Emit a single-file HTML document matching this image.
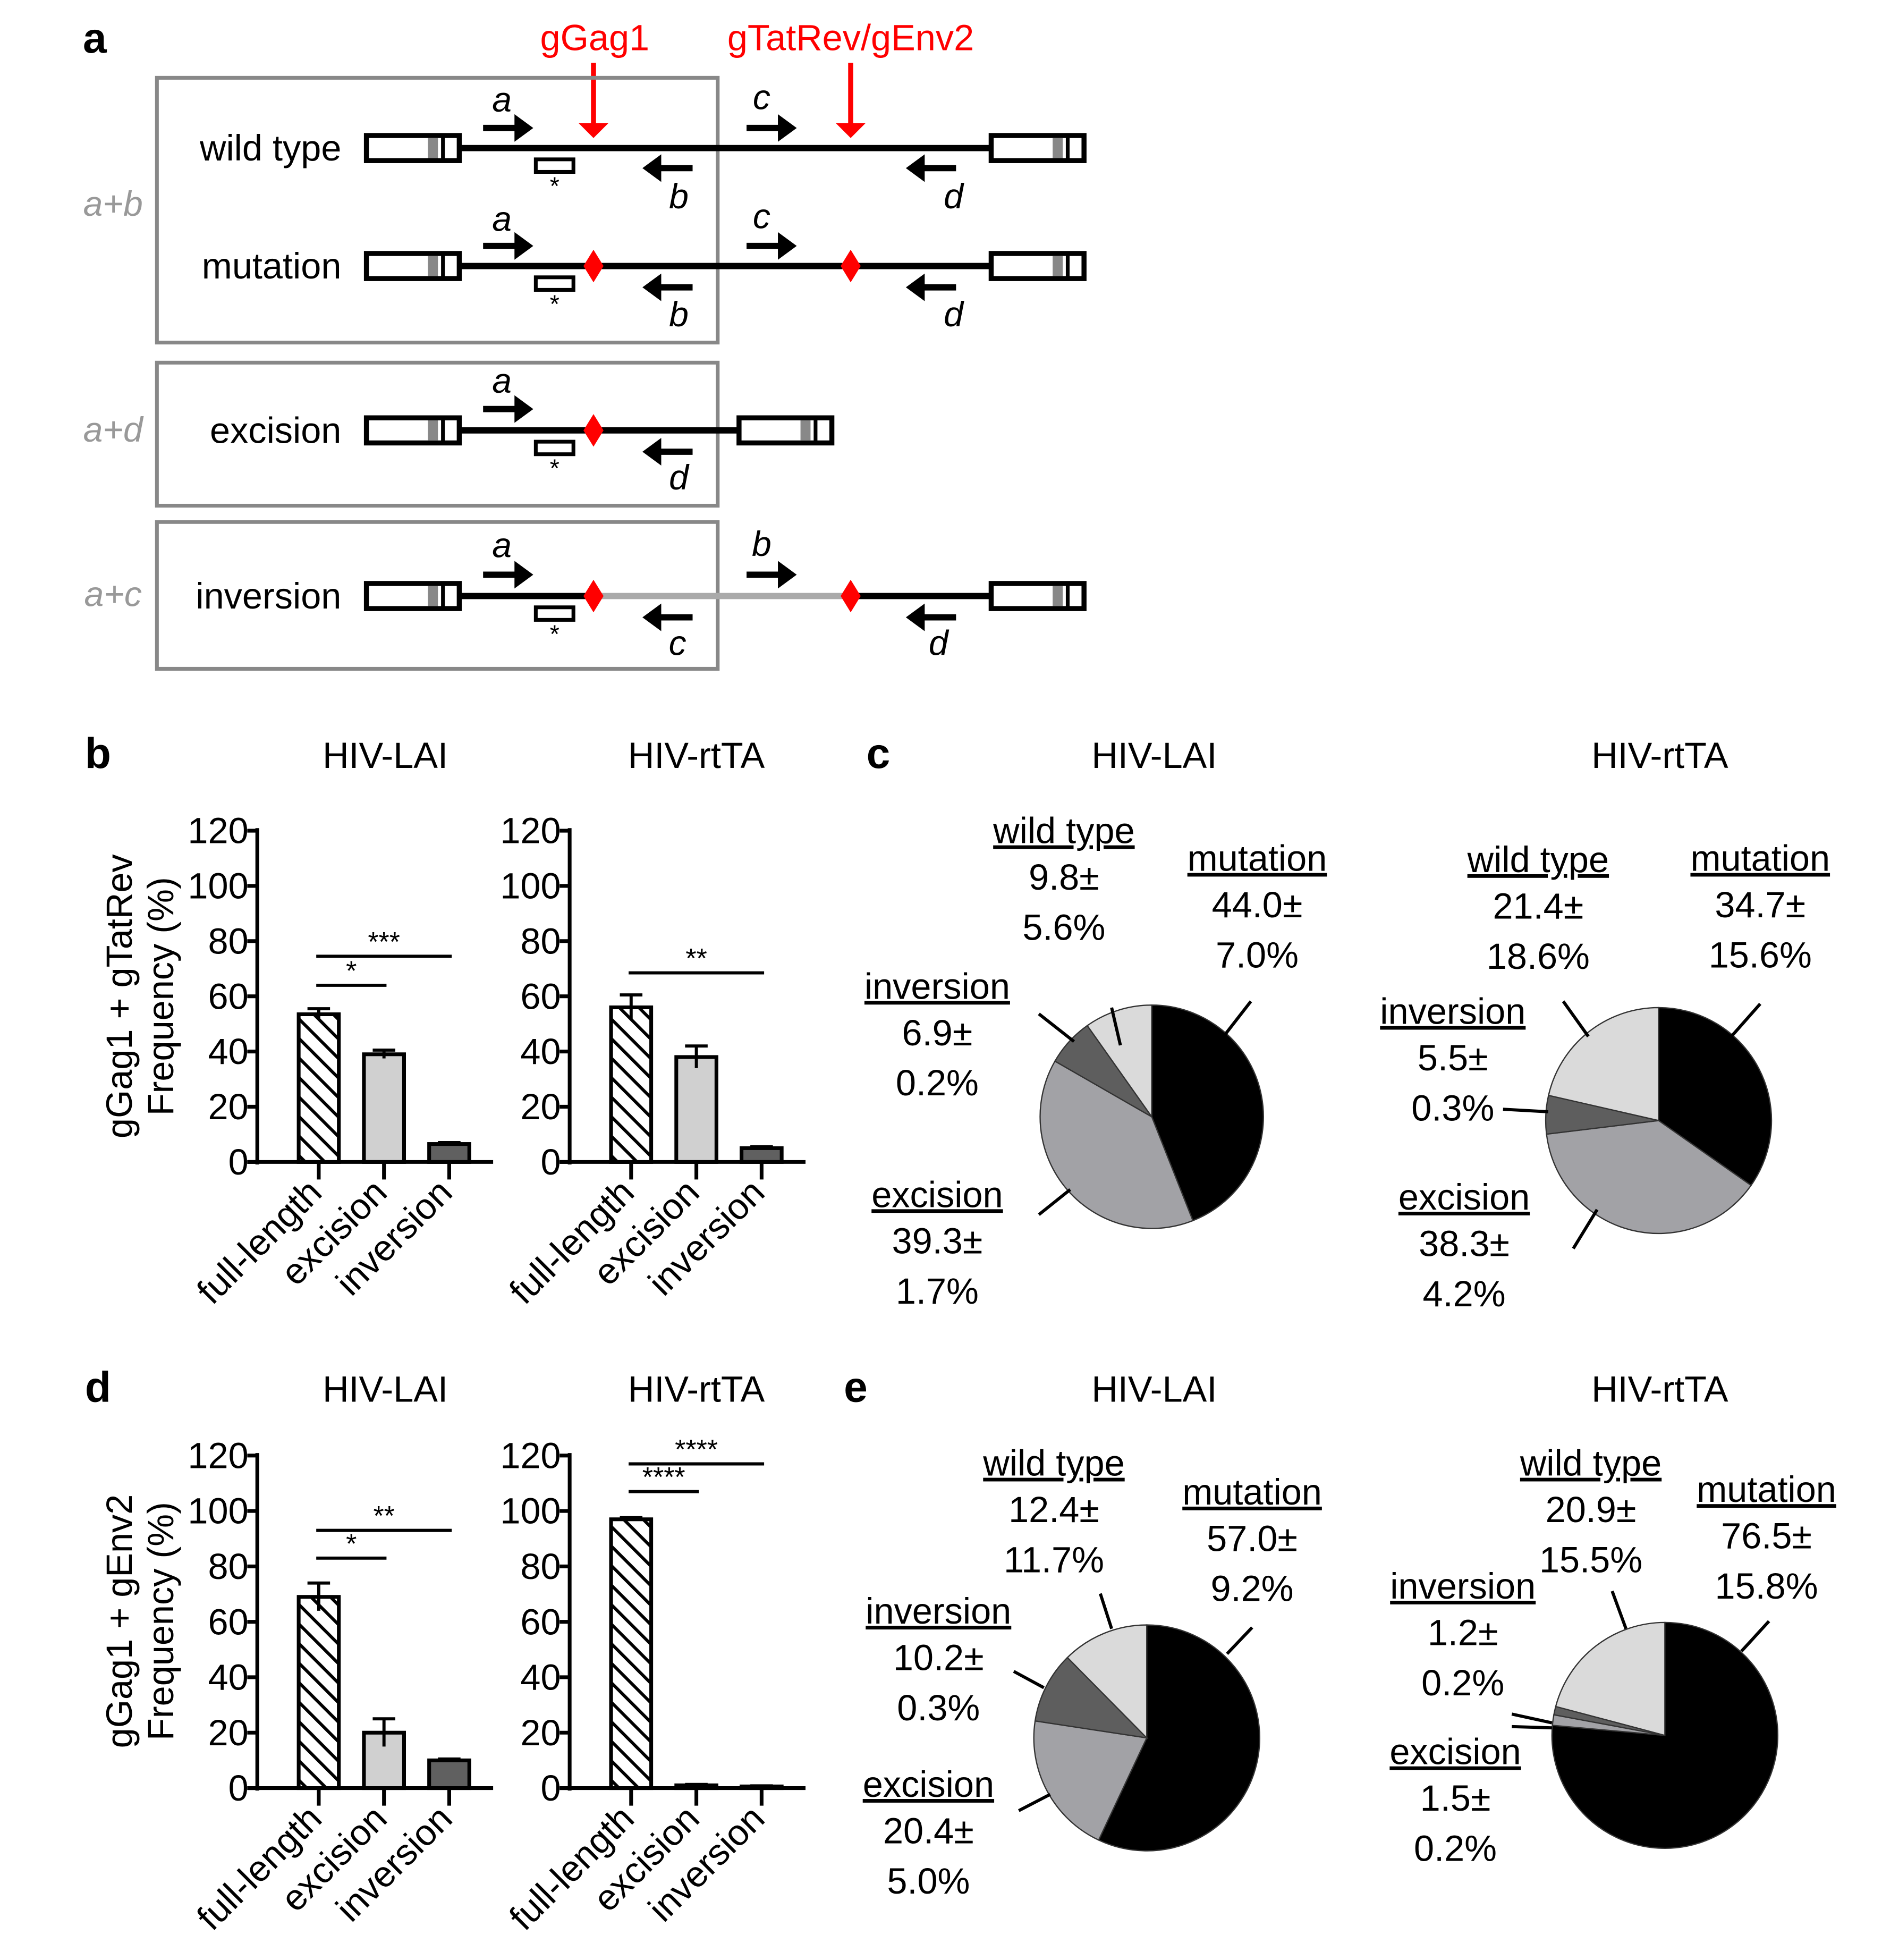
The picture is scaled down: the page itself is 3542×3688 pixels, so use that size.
<!DOCTYPE html>
<html><head><meta charset="utf-8"><style>
html,body{margin:0;padding:0;background:#fff}
svg{display:block}
text{font-family:"Liberation Sans",Arial,sans-serif}
</style></head><body>
<svg id="fig" width="3542" height="3688" viewBox="0 0 1500 1562" xmlns="http://www.w3.org/2000/svg">
<defs>
<pattern id="hatch" patternUnits="userSpaceOnUse" width="11" height="11" patternTransform="rotate(-45)">
<rect width="11" height="11" fill="#fff"/><line x1="0" y1="0" x2="0" y2="11" stroke="#000" stroke-width="5"/>
</pattern>
<marker id="ra" markerWidth="5" markerHeight="6" refX="1" refY="3" orient="auto" markerUnits="strokeWidth"><path d="M0,0 L3,3 L0,6 Z" fill="red"/></marker>
</defs>
<g id="panelA"></g>
<g id="charts"></g>
</svg>
<script>
// ---- bar chart data ----
const barCategories = ["full-length","excision","inversion"];
const bLaiValues = [53.5, 39, 6.5];
const bLaiErrors = [2, 1.5, 0.5];
const bRtValues = [56, 38, 5];
const bRtErrors = [4.5, 4, 0.5];
const dLaiValues = [69, 20, 10];
const dLaiErrors = [5, 5, 0.5];
const dRtValues = [97, 1, 0.6];
const dRtErrors = [0.6, 0.3, 0.2];
const yTicks = [0,20,40,60,80,100,120];
// ---- pie data (order: mutation, excision, inversion, wild type) ----
const pieCategories = ["mutation","excision","inversion","wild type"];
const cLaiPie = [44.0, 39.3, 6.9, 9.8];
const cRtPie = [34.7, 38.3, 5.5, 21.4];
const eLaiPie = [57.0, 20.4, 10.2, 12.4];
const eRtPie = [76.5, 1.5, 1.2, 20.9];
const cLaiErr = [7.0, 1.7, 0.2, 5.6];
const cRtErr = [15.6, 4.2, 0.3, 18.6];
const eLaiErr = [9.2, 5.0, 0.3, 11.7];
const eRtErr = [15.8, 0.2, 0.2, 15.5];

const NS="http://www.w3.org/2000/svg";
function el(parent,tag,attrs,txt){const e=document.createElementNS(NS,tag);for(const k in attrs)e.setAttribute(k,attrs[k]);if(txt!==undefined)e.textContent=txt;parent.appendChild(e);return e;}
const A=document.getElementById('panelA');
const C=document.getElementById('charts');

// ---------- Panel A ----------
let t;
t=el(A,'text',{x:66,y:42,'font-size':34,'font-weight':'bold'},'a');


t=el(A,'text',{x:474,y:40,'font-size':29,fill:'red','text-anchor':'middle'},'gGag1');


t=el(A,'text',{x:678,y:40,'font-size':29,fill:'red','text-anchor':'middle'},'gTatRev/gEnv2');


el(A,'line',{x1:473,y1:50,x2:473,y2:102,stroke:'red','stroke-width':4,'marker-end':'url(#ra)'});
el(A,'line',{x1:678,y1:50,x2:678,y2:102,stroke:'red','stroke-width':4,'marker-end':'url(#ra)'});
[[125,62,447,211],[125,289,447,114],[125,416,447,117]].forEach((b,i)=>{
 const r=el(A,'rect',{x:b[0],y:b[1],width:b[2],height:b[3],fill:'none',stroke:'#888','stroke-width':3});
 
 
});
[['a+b',172],['a+d',352],['a+c',483]].forEach(g=>{
 const x=el(A,'text',{x:90,y:g[1],'font-size':28,fill:'#999','font-style':'italic','text-anchor':'middle'},g[0]);
 
 
});
function ltr(x,y){
 el(A,'rect',{x:x+2,y:y-10,width:74,height:20,fill:'#fff',stroke:'#000','stroke-width':4});
 el(A,'rect',{x:x+51,y:y-8,width:8,height:16,fill:'#888'});
 el(A,'line',{x1:x+63,y1:y-10,x2:x+63,y2:y+10,stroke:'#000','stroke-width':3});
}
function arrowR(x,y){el(A,'line',{x1:x,y1:y,x2:x+28,y2:y,stroke:'#000','stroke-width':5});el(A,'path',{d:`M${x+25},${y-11} L${x+40},${y} L${x+25},${y+11}Z`,fill:'#000'});}
function arrowL(x,y){el(A,'line',{x1:x+12,y1:y,x2:x+40,y2:y,stroke:'#000','stroke-width':5});el(A,'path',{d:`M${x+15},${y-11} L${x},${y} L${x+15},${y+11}Z`,fill:'#000'});}
function lbl(x,y,s){el(A,'text',{x:x,y:y,'font-size':28,'font-style':'italic','text-anchor':'middle'},s);}
function probe(y){el(A,'rect',{x:427,y:y+9,width:30,height:10,fill:'#fff',stroke:'#000','stroke-width':3});el(A,'text',{x:442,y:y+37,'font-size':20,'text-anchor':'middle'},'*');}
function diamond(x,y){el(A,'path',{d:`M${x},${y-13} L${x+8},${y} L${x},${y+13} L${x-8},${y}Z`,fill:'red'});}
function rowName(y,s){const x=el(A,'text',{x:272,y:y+10,'font-size':29,'text-anchor':'end'},s);}
let y=118; rowName(y,'wild type'); el(A,'line',{x1:368,y1:y,x2:790,y2:y,stroke:'#000','stroke-width':5});ltr(290,y);ltr(788,y);
arrowR(385,102);lbl(400,89,'a');probe(y);arrowL(512,134);lbl(541,166,'b');arrowR(595,102);lbl(607,87,'c');arrowL(722,134);lbl(760,166,'d');
y=212; rowName(y,'mutation'); el(A,'line',{x1:368,y1:y,x2:790,y2:y,stroke:'#000','stroke-width':5});ltr(290,y);ltr(788,y);
arrowR(385,196);lbl(400,184,'a');probe(y);arrowL(512,229);lbl(541,260,'b');arrowR(595,196);lbl(607,182,'c');arrowL(722,229);lbl(760,260,'d');diamond(473,y);diamond(678,y);
y=343; rowName(y,'excision'); el(A,'line',{x1:368,y1:y,x2:590,y2:y,stroke:'#000','stroke-width':5});ltr(290,y);ltr(587,y);
arrowR(385,326);lbl(400,313,'a');probe(y);arrowL(512,360);lbl(541,390,'d');diamond(473,y);
y=475; rowName(y,'inversion'); el(A,'line',{x1:368,y1:y,x2:473,y2:y,stroke:'#000','stroke-width':5});el(A,'line',{x1:473,y1:y,x2:678,y2:y,stroke:'#aaa','stroke-width':5});el(A,'line',{x1:678,y1:y,x2:790,y2:y,stroke:'#000','stroke-width':5});ltr(290,y);ltr(788,y);
arrowR(385,458);lbl(400,444,'a');probe(y);arrowL(512,492);lbl(540,522,'c');arrowR(595,458);lbl(607,443,'b');arrowL(722,492);lbl(748,522,'d');diamond(473,y);diamond(678,y);

// ---------- Bar charts ----------
const barFills=['url(#hatch)','#d0d0d0','#606060'];
function barChart(x0,y0,yTop,values,errors,sigs,name){
 const g=el(C,'g',{});
 
 
 const yScale=v=>y0-(v/120)*(y0-yTop);
 const xScale=i=>x0+49+i*52;
 el(g,'line',{x1:x0,y1:yTop-2,x2:x0,y2:y0+2,stroke:'#000','stroke-width':3});
 el(g,'line',{x1:x0-8,y1:y0,x2:x0+188,y2:y0,stroke:'#000','stroke-width':3});
 yTicks.forEach(v=>{
  el(g,'line',{x1:x0-8,y1:yScale(v),x2:x0,y2:yScale(v),stroke:'#000','stroke-width':3});
  const tl=el(g,'text',{x:x0-7,y:yScale(v)+10,'font-size':29,'text-anchor':'end'},String(v));
  
  
 });
 values.forEach((v,i)=>{
  const cx=xScale(i);
  const b=el(g,'rect',{x:cx-16,y:yScale(v),width:32,height:y0-yScale(v),fill:barFills[i],stroke:'#000','stroke-width':3});
  
  
  const e=errors[i];
  el(g,'line',{x1:cx,y1:yScale(v+e),x2:cx,y2:yScale(v-e),stroke:'#000','stroke-width':2.5});
  el(g,'line',{x1:cx-9,y1:yScale(v+e),x2:cx+9,y2:yScale(v+e),stroke:'#000','stroke-width':2.5});
  el(g,'line',{x1:cx,y1:y0,x2:cx,y2:y0+14,stroke:'#000','stroke-width':3});
  const tl=el(g,'text',{x:cx+4,y:y0+26,'font-size':29,'text-anchor':'end',transform:`rotate(-45 ${cx+4} ${y0+26})`},barCategories[i]);
  
  
 });
 sigs.forEach(s=>{
  const yy=yScale(s[2]);
  el(g,'line',{x1:xScale(s[0])-2,y1:yy,x2:xScale(s[1])+2,y2:yy,stroke:'#000','stroke-width':2.5});
  const st=el(g,'text',{x:(xScale(s[0])+xScale(s[1]))/2,y:yy-4,'font-size':22,'text-anchor':'middle'},s[3]);
  
  
 });
}
barChart(205,926,662,bLaiValues,bLaiErrors,[[0,1,64,'*'],[0,2,74.5,'***']],'bar-chart-b-lai');
barChart(454,926,662,bRtValues,bRtErrors,[[0,2,68.5,'**']],'bar-chart-b-rtta');
barChart(205,1425,1160,dLaiValues,dLaiErrors,[[0,1,83,'*'],[0,2,93,'**']],'bar-chart-d-lai');
barChart(454,1425,1160,dRtValues,dRtErrors,[[0,1,107,'****'],[0,2,117,'****']],'bar-chart-d-rtta');

function txt(x,y,s,opt,name){const o=Object.assign({x:x,y:y,'font-size':29,'text-anchor':'middle'},opt||{});const e=el(C,'text',o,s);return e;}
txt(78,612,'b',{'font-size':34,'font-weight':'bold'},'panel-b-label');
txt(78,1117,'d',{'font-size':34,'font-weight':'bold'},'panel-d-label');
txt(700,612,'c',{'font-size':34,'font-weight':'bold'},'panel-c-label');
txt(682,1117,'e',{'font-size':34,'font-weight':'bold'},'panel-e-label');
txt(307,612,'HIV-LAI',{},'title-b-lai');txt(555,612,'HIV-rtTA',{},'title-b-rtta');
txt(307,1117,'HIV-LAI',{},'title-d-lai');txt(555,1117,'HIV-rtTA',{},'title-d-rtta');
txt(920,612,'HIV-LAI',{},'title-c-lai');txt(1323,612,'HIV-rtTA',{},'title-c-rtta');
txt(920,1117,'HIV-LAI',{},'title-e-lai');txt(1323,1117,'HIV-rtTA',{},'title-e-rtta');
txt(105,794,'gGag1 + gTatRev',{transform:'rotate(-90 105 794)'},'y-axis-title-b');
txt(138,794,'Frequency (%)',{transform:'rotate(-90 138 794)'},'y-axis-title-b-2');
txt(105,1292,'gGag1 + gEnv2',{transform:'rotate(-90 105 1292)'},'y-axis-title-d');
txt(138,1292,'Frequency (%)',{transform:'rotate(-90 138 1292)'},'y-axis-title-d-2');

// ---------- Pies ----------
const pieFills=['#000','#a2a2a6','#5e5e5e','#dadada'];
function pie(cx,cy,r,vals,name){
 const g=el(C,'g',{});
 
 
 const tot=vals.reduce((a,b)=>a+b,0);let a0=0;
 vals.forEach((v,i)=>{
  const a1=a0+v/tot*2*Math.PI;
  const p=(a)=>[cx+r*Math.sin(a),cy-r*Math.cos(a)];
  const [x0,y0]=p(a0),[x1,y1]=p(a1);
  const s=el(g,'path',{d:`M${cx},${cy} L${x0},${y0} A${r},${r} 0 ${a1-a0>Math.PI?1:0} 1 ${x1},${y1} Z`,fill:pieFills[i],stroke:'#333','stroke-width':1});
  
  
  a0=a1;
 });
}
pie(918,890,89,cLaiPie,'pie-c-lai');
pie(1322,893,90,cRtPie,'pie-c-rtta');
pie(914,1385,90,eLaiPie,'pie-e-lai');
pie(1327,1383,90,eRtPie,'pie-e-rtta');

function plabel(x,y,i,vals,errs,name){
 txt(x,y,pieCategories[i],{'text-decoration':'underline'},name+'-name');
 txt(x,y+37,vals[i].toFixed(1)+'±',{},name+'-value');
 txt(x,y+77,errs[i].toFixed(1)+'%',{},name+'-error');
}
function lead(x1,y1,x2,y2){el(C,'line',{x1:x1,y1:y1,x2:x2,y2:y2,stroke:'#000','stroke-width':2.5});}
plabel(848,672,3,cLaiPie,cLaiErr,'c-lai-wt');plabel(1002,694,0,cLaiPie,cLaiErr,'c-lai-mut');
plabel(747,796,2,cLaiPie,cLaiErr,'c-lai-inv');plabel(747,962,1,cLaiPie,cLaiErr,'c-lai-exc');
lead(976,825,997,798);lead(893,833,886,803);lead(856,830,828,808);lead(828,968,853,948);
plabel(1226,695,3,cRtPie,cRtErr,'c-rt-wt');plabel(1403,694,0,cRtPie,cRtErr,'c-rt-mut');
plabel(1158,816,2,cRtPie,cRtErr,'c-rt-inv');plabel(1167,964,1,cRtPie,cRtErr,'c-rt-exc');
lead(1380,826,1403,800);lead(1266,826,1246,798);lead(1234,886,1198,884);lead(1254,995,1273,964);
plabel(840,1176,3,eLaiPie,eLaiErr,'e-lai-wt');plabel(998,1199,0,eLaiPie,eLaiErr,'e-lai-mut');
plabel(748,1294,2,eLaiPie,eLaiErr,'e-lai-inv');plabel(740,1432,1,eLaiPie,eLaiErr,'e-lai-exc');
lead(978,1318,998,1297);lead(886,1298,877,1270);lead(832,1345,808,1332);lead(812,1443,837,1430);
plabel(1268,1176,3,eRtPie,eRtErr,'e-rt-wt');plabel(1408,1197,0,eRtPie,eRtErr,'e-rt-mut');
plabel(1166,1274,2,eRtPie,eRtErr,'e-rt-inv');plabel(1160,1406,1,eRtPie,eRtErr,'e-rt-exc');
lead(1388,1316,1410,1292);lead(1296,1298,1285,1268);lead(1237,1373,1205,1366);lead(1237,1377,1205,1376);
</script>
</body></html>
